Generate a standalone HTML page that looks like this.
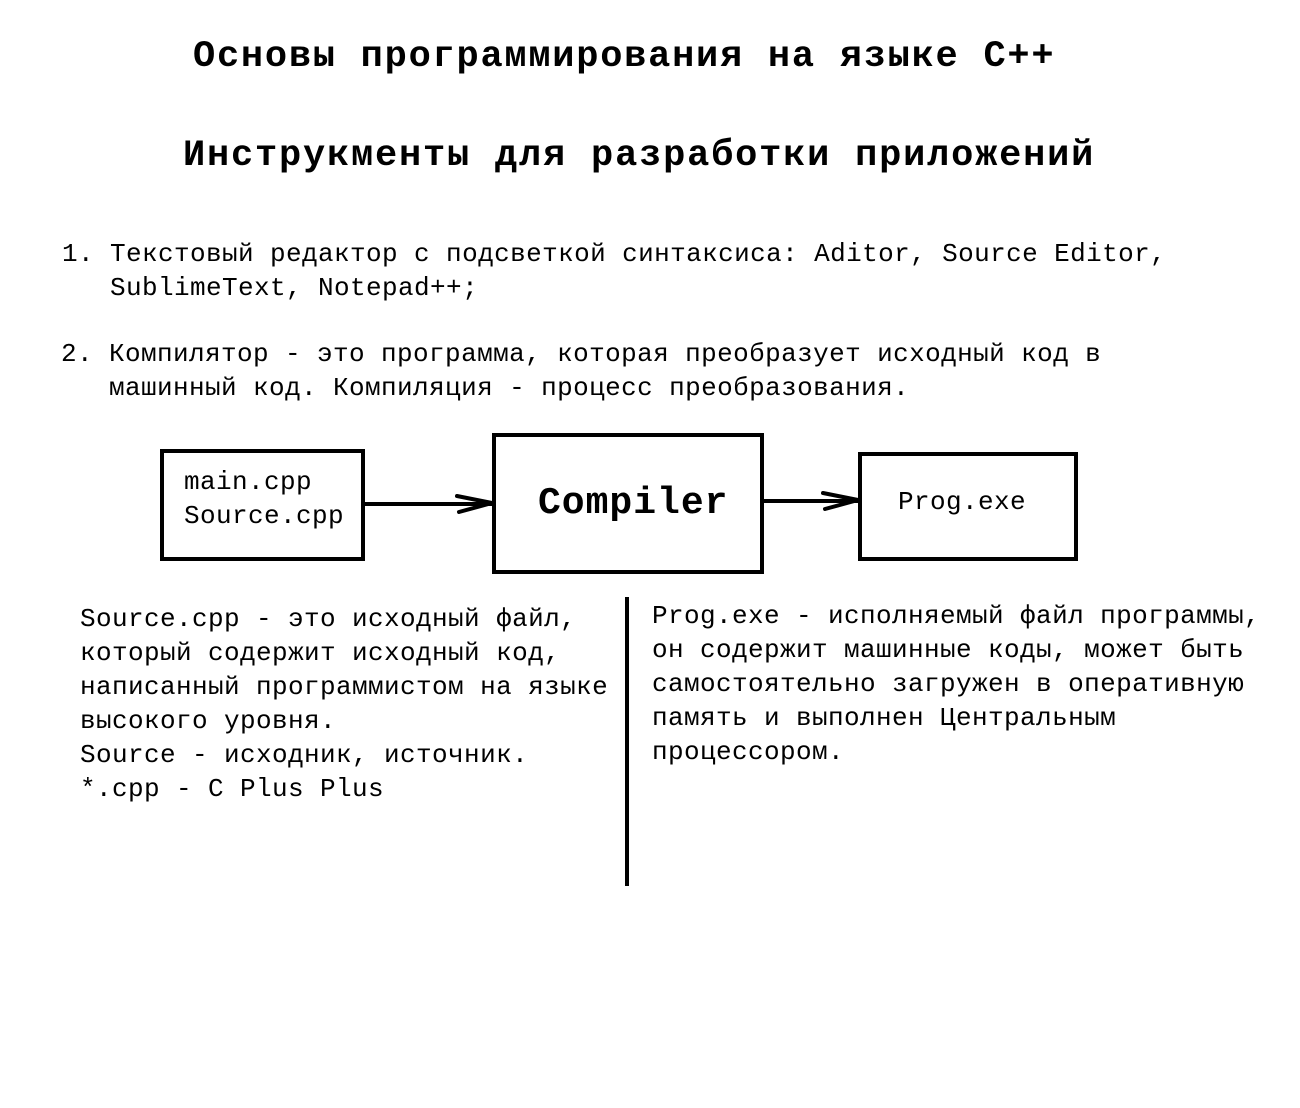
<!DOCTYPE html>
<html><head><meta charset="utf-8"><style>
body{margin:0;width:1300px;height:1108px;background:#fff;position:relative;overflow:hidden;font-family:"Liberation Mono","DejaVu Sans Mono",monospace;color:#000}
.t{position:absolute;white-space:pre;font-size:26px;letter-spacing:0.4px;line-height:34px}
.h{position:absolute;white-space:pre;font-weight:bold;font-size:37px;letter-spacing:2.2px;line-height:40px}
.box{position:absolute;border:4px solid #000;box-sizing:border-box}
</style></head><body>
<div class="h" style="left:193px;top:37px;letter-spacing:1.75px">Основы программирования на языке C++</div>
<div class="h" style="left:183px;top:136px;letter-spacing:1.8px">Инструкменты для разработки приложений</div>

<div class="t" style="left:62px;top:237px">1. Текстовый редактор с подсветкой синтаксиса: Aditor, Source Editor,
   SublimeText, Notepad++;</div>
<div class="t" style="left:61px;top:337px">2. Компилятор - это программа, которая преобразует исходный код в
   машинный код. Компиляция - процесс преобразования.</div>

<div class="box" style="left:160px;top:449px;width:205px;height:112px"></div>
<div class="t" style="left:184px;top:465px">main.cpp
Source.cpp</div>
<div class="box" style="left:492px;top:433px;width:272px;height:141px"></div>
<div class="h" style="left:538px;top:484px;font-size:38px;letter-spacing:1px">Compiler</div>
<div class="box" style="left:858px;top:452px;width:220px;height:109px"></div>
<div class="t" style="left:898px;top:485px">Prog.exe</div>

<svg style="position:absolute;left:0;top:0" width="1300" height="1108">
<g stroke="#000" stroke-width="4" stroke-linecap="round" fill="none">
<line x1="364" y1="504" x2="493" y2="504"/>
<polyline points="457,496 492,503 459,512"/>
<line x1="763" y1="501" x2="859" y2="501"/>
<polyline points="823,493 858,500 825,509"/>
<line x1="627" y1="597" x2="627" y2="886" stroke-linecap="butt"/>
</g>
</svg>

<div class="t" style="left:80px;top:602px">Source.cpp - это исходный файл,
который содержит исходный код,
написанный программистом на языке
высокого уровня.
Source - исходник, источник.
*.cpp - C Plus Plus</div>
<div class="t" style="left:652px;top:599px">Prog.exe - исполняемый файл программы,
он содержит машинные коды, может быть
самостоятельно загружен в оперативную
память и выполнен Центральным
процессором.</div>
</body></html>
